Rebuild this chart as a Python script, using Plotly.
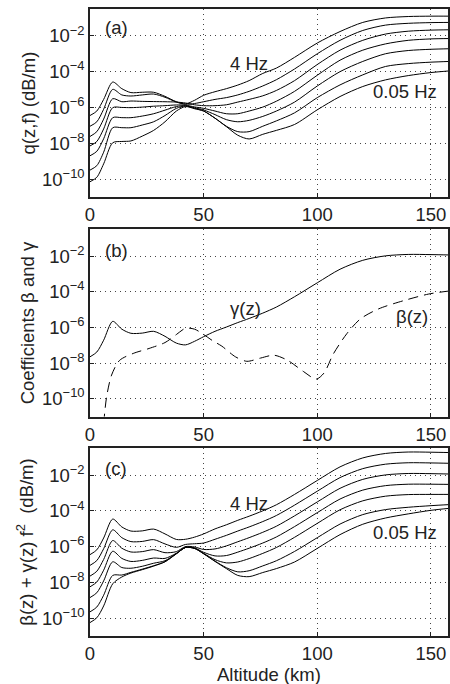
import plotly.graph_objects as go

# ---------------- data (log10 of attenuation) ----------------
altitude_km = [0, 3, 6, 10, 14, 18, 23, 28, 33, 38, 42, 46, 50, 55, 60, 65, 70, 76, 82,
               90, 100, 110, 120, 130, 140, 150, 158]
freq_labels = ["4 Hz", "2 Hz", "1 Hz", "0.5 Hz", "0.25 Hz", "0.1 Hz", "0.05 Hz"]

# panel (a): q(z,f)
qa_4hz = [-6.45, -6.2, -5.55, -4.58, -4.95, -5.17, -5.15, -5.15, -5.38, -5.68, -5.8, -5.6, -5.32,
          -5.12, -4.95, -4.75, -4.5, -4.1, -3.8, -3.2, -2.4, -1.76, -1.25, -1.0, -0.92, -0.9, -0.9]
qa_2hz = [-7.05, -6.8, -6.1, -4.99, -5.3, -5.36, -5.3, -5.25, -5.43, -5.7, -5.82, -5.78, -5.68,
          -5.55, -5.45, -5.3, -5.1, -4.8, -4.45, -3.85, -3.0, -2.25, -1.7, -1.4, -1.3, -1.26, -1.25]
qa_1hz = [-7.62, -7.35, -6.65, -5.51, -5.68, -5.64, -5.66, -5.67, -5.68, -5.7, -5.75, -5.85, -5.9,
          -5.9, -5.85, -5.7, -5.55, -5.35, -5.05, -4.5, -3.6, -2.8, -2.25, -1.9, -1.74, -1.68, -1.66]
qa_05hz = [-8.15, -7.9, -7.2, -6.01, -6.0, -6.01, -5.98, -5.93, -5.9, -5.86, -5.87, -5.97, -6.05,
           -6.2, -6.35, -6.35, -6.2, -5.98, -5.65, -5.1, -4.2, -3.36, -2.8, -2.45, -2.25, -2.17, -2.15]
qa_025hz = [-8.7, -8.45, -7.75, -6.57, -6.57, -6.57, -6.48, -6.35, -6.15, -5.95, -5.9, -6.02, -6.14,
            -6.4, -6.68, -6.8, -6.72, -6.5, -6.2, -5.7, -4.8, -4.0, -3.43, -3.0, -2.82, -2.75, -2.72]
qa_01hz = [-9.5, -9.25, -8.5, -7.13, -7.13, -7.13, -6.98, -6.8, -6.45, -6.05, -5.92, -6.05, -6.2,
           -6.6, -7.05, -7.35, -7.35, -7.05, -6.75, -6.3, -5.45, -4.74, -4.18, -3.71, -3.55, -3.47, -3.43]
qa_005hz = [-10.15, -9.9, -9.15, -7.97, -7.9, -7.87, -7.6, -7.28, -6.8, -6.2, -5.95, -6.07, -6.2,
            -6.6, -7.07, -7.55, -7.76, -7.5, -7.28, -6.95, -6.13, -5.39, -4.83, -4.46, -4.22, -4.05, -3.96]

# panel (b): coefficients
gamma_km = [0, 3, 6, 10, 14, 18, 23, 28, 33, 38, 42, 46, 50, 55, 60, 65, 70, 76, 82, 90, 100,
            110, 120, 130, 140, 150, 158]
gamma_log = [-7.65, -7.38, -6.72, -5.66, -6.1, -6.33, -6.32, -6.22, -6.5, -6.88, -6.98, -6.78,
             -6.52, -6.22, -5.98, -5.73, -5.5, -5.2, -4.86, -4.28, -3.5, -2.74, -2.24, -1.99,
             -1.91, -1.92, -1.94]
beta_km = [6, 7.3, 9.5, 13, 19, 26, 33, 38, 42, 46, 50, 54, 58, 64, 69, 75, 81, 87, 94, 99.5,
           103, 107, 113, 119, 127, 138, 149, 158]
beta_log = [-11.4, -9.9, -8.67, -7.85, -7.46, -7.18, -6.85, -6.4, -6.05, -6.1, -6.4, -6.75,
            -7.05, -7.65, -7.9, -7.72, -7.56, -7.85, -8.48, -8.9, -8.55, -7.5, -6.35, -5.52,
            -4.96, -4.5, -4.13, -3.96]

# panel (c): beta + gamma f^2
qc_4hz = [-6.45, -6.18, -5.52, -4.46, -4.9, -5.13, -5.12, -5.02, -5.29, -5.6, -5.59, -5.47, -5.29,
          -5.01, -4.78, -4.53, -4.3, -4.0, -3.66, -3.08, -2.3, -1.54, -1.04, -0.79, -0.71, -0.72, -0.74]
qc_2hz = [-7.05, -6.78, -6.12, -5.06, -5.5, -5.72, -5.71, -5.61, -5.85, -6.04, -5.88, -5.84, -5.8,
          -5.59, -5.37, -5.13, -4.9, -4.6, -4.26, -3.68, -2.9, -2.14, -1.64, -1.39, -1.31, -1.32, -1.34]
qc_1hz = [-7.65, -7.38, -6.72, -5.66, -6.09, -6.3, -6.28, -6.17, -6.34, -6.28, -6.0, -6.02, -6.16,
          -6.13, -5.96, -5.73, -5.5, -5.2, -4.86, -4.28, -3.5, -2.74, -2.24, -1.99, -1.91, -1.92, -1.94]
qc_05hz = [-8.25, -7.98, -7.32, -6.26, -6.66, -6.83, -6.77, -6.64, -6.66, -6.37, -6.04, -6.08, -6.32,
           -6.52, -6.5, -6.31, -6.09, -5.8, -5.46, -4.88, -4.1, -3.34, -2.84, -2.59, -2.51, -2.51, -2.52]
qc_025hz = [-8.85, -8.58, -7.92, -6.85, -7.17, -7.21, -7.1, -6.93, -6.79, -6.39, -6.05, -6.09, -6.38,
            -6.73, -6.91, -6.86, -6.67, -6.38, -6.05, -5.48, -4.7, -3.94, -3.44, -3.18, -3.09, -3.08, -3.08]
qc_01hz = [-9.65, -9.38, -8.72, -7.61, -7.59, -7.44, -7.26, -7.07, -6.84, -6.4, -6.05, -6.1, -6.4,
           -6.81, -7.18, -7.41, -7.35, -7.08, -6.79, -6.27, -5.5, -4.74, -4.21, -3.93, -3.8, -3.71, -3.65]
qc_005hz = [-10.25, -9.98, -9.32, -8.08, -7.7, -7.48, -7.29, -7.09, -6.85, -6.4, -6.05, -6.1, -6.4,
            -6.83, -7.23, -7.61, -7.68, -7.45, -7.23, -6.86, -6.1, -5.33, -4.75, -4.4, -4.17, -3.97, -3.86]

x_ticks = [0, 50, 100, 150]
y_tick_exp = [-10, -8, -6, -4, -2]

# ---------------- figure ----------------
FONT = "Liberation Sans, Arial, Helvetica, sans-serif"
FS = 18.5
TXT = "#222"
fig = go.Figure()

panel_a = [qa_4hz, qa_2hz, qa_1hz, qa_05hz, qa_025hz, qa_01hz, qa_005hz]
panel_c = [qc_4hz, qc_2hz, qc_1hz, qc_05hz, qc_025hz, qc_01hz, qc_005hz]

line_style = dict(color="black", width=1, shape="spline", smoothing=0.8)

for name, vals in zip(freq_labels, panel_a):
    fig.add_trace(go.Scatter(x=altitude_km, y=[10 ** v for v in vals], mode="lines",
                             line=line_style, name=name, xaxis="x", yaxis="y",
                             showlegend=False))

fig.add_trace(go.Scatter(x=gamma_km, y=[10 ** v for v in gamma_log], mode="lines",
                         line=line_style, name="γ(z)", xaxis="x2", yaxis="y2", showlegend=False))
fig.add_trace(go.Scatter(x=beta_km, y=[10 ** v for v in beta_log], mode="lines",
                         line=dict(color="black", width=1, shape="spline", smoothing=0.8,
                                   dash="10px,6px"),
                         name="β(z)", xaxis="x2", yaxis="y2", showlegend=False))

for name, vals in zip(freq_labels, panel_c):
    fig.add_trace(go.Scatter(x=altitude_km, y=[10 ** v for v in vals], mode="lines",
                             line=line_style, name=name, xaxis="x3", yaxis="y3",
                             showlegend=False))

tick_text = ["10<sup>\u2212%d</sup>" % (-e) for e in y_tick_exp]
tick_vals = [10.0 ** e for e in y_tick_exp]
GRID = dict(showgrid=True, gridcolor="#444", griddash="1px,4px", gridwidth=1)

def xaxis(anchor):
    return dict(range=[0, 157.5], tickvals=x_ticks, showline=True, linecolor="#222",
                linewidth=1.5, mirror=True, ticks="inside", ticklen=4, tickcolor="#222",
                zeroline=False, anchor=anchor, tickfont=dict(family=FONT, size=FS, color=TXT),
                domain=[0, 1], **GRID)

def yaxis(anchor, domain):
    return dict(type="log", range=[-11, -0.5], tickvals=tick_vals, ticktext=tick_text,
                showline=True, linecolor="#222", linewidth=1.5, mirror=True,
                ticks="inside", ticklen=4, tickcolor="#222", zeroline=False,
                anchor=anchor, domain=domain,
                tickfont=dict(family=FONT, size=FS, color=TXT), **GRID)

fig.update_layout(
    width=450, height=684,
    margin=dict(l=90, r=0, t=9, b=48),
    paper_bgcolor="white", plot_bgcolor="white",
    font=dict(family=FONT, size=FS, color=TXT),
    xaxis=xaxis("y"),
    yaxis=yaxis("x", [0.7002, 1.0]),
    xaxis2=xaxis("y2"),
    yaxis2=yaxis("x2", [0.3499, 0.6487]),
    xaxis3=xaxis("y3"),
    yaxis3=yaxis("x3", [0.0, 0.2994]),
    showlegend=False,
)

ann_font = dict(family=FONT, size=FS, color=TXT)
annotations = [
    dict(text="(a)", x=5.5, y=-1.55, xref="x", yref="y", xanchor="left"),
    dict(text="(b)", x=5.5, y=-1.7, xref="x2", yref="y2", xanchor="left"),
    dict(text="(c)", x=5.5, y=-1.63, xref="x3", yref="y3", xanchor="left"),
    dict(text="4 Hz", x=70, y=-3.56, xref="x", yref="y"),
    dict(text="0.05 Hz", x=138.7, y=-5.13, xref="x", yref="y"),
    dict(text="4 Hz", x=70, y=-3.58, xref="x3", yref="y3"),
    dict(text="0.05 Hz", x=138.7, y=-5.19, xref="x3", yref="y3"),
    dict(text="γ(z)", x=68.2, y=-4.94, xref="x2", yref="y2"),
    dict(text="β(z)", x=141.7, y=-5.38, xref="x2", yref="y2"),
    dict(text="Altitude (km)", x=0.5, y=-0.062, xref="paper", yref="paper"),
    dict(text="q(z,f) (dB/m)", x=-0.172, y=0.85, xref="paper", yref="paper",
         textangle=-90),
    dict(text="Coefficients β and γ", x=-0.172, y=0.4993, xref="paper", yref="paper",
         textangle=-90),
    dict(text="β(z) + γ(z) f<sup>2</sup>  (dB/m)", x=-0.18, y=0.1497, xref="paper",
         yref="paper", textangle=-90),
]
for a in annotations:
    a.setdefault("xanchor", "center")
    a.update(showarrow=False, font=ann_font, yanchor="middle")
fig.update_layout(annotations=annotations)

fig.write_html("out.html")
